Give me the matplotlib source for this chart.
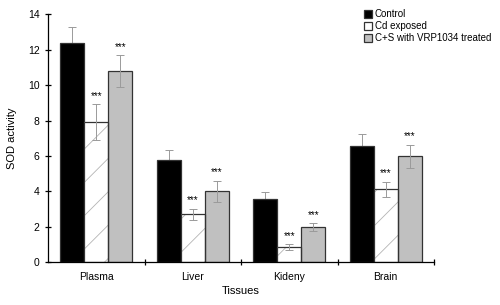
import numpy as np
import matplotlib.pyplot as plt

tissues = ["Plasma", "Liver", "Kideny", "Brain"]
groups = ["Control", "Cd exposed", "C+S with VRP1034 treated"]
control = [12.38, 5.8, 3.57, 6.58]
control_err = [0.92, 0.55, 0.4, 0.65]
cd = [7.9, 2.71, 0.87, 4.13]
cd_err = [1.02, 0.32, 0.15, 0.42]
cs = [10.8, 4.01, 1.97, 5.98]
cs_err = [0.88, 0.6, 0.23, 0.65]

plt.rcParams['font.family'] = ['Liberation Sans', 'DejaVu Sans']
plt.rcParams['hatch.linewidth'] = 0.6

fig = plt.figure(figsize=(5, 3.05), dpi=100)
ax = fig.add_axes([0.096, 0.14, 0.772, 0.813])

x = np.arange(len(tissues))
w = 0.25
styles = [
    (control, control_err, '#000000', None, -w),
    (cd, cd_err, '#ffffff', '/', 0),
    (cs, cs_err, '#c0c0c0', None, w),
]
for (vals, errs, col, hatch, off), name in zip(styles, groups):
    if hatch:
        # light hatch underneath, dark outline on top
        ax.bar(x + off, vals, width=w, color=col, edgecolor='#b4b4b4',
               linewidth=0, hatch=hatch, zorder=2)
        ax.bar(x + off, vals, width=w, fill=False, edgecolor='#333333',
               linewidth=0.9, zorder=2.1)
        ax.bar([np.nan], [np.nan], color=col, edgecolor='#333333',
               linewidth=0.9, label=name)
    else:
        ax.bar(x + off, vals, width=w, color=col, edgecolor='#333333',
               linewidth=0.9, label=name, zorder=2)
    ez = 1 if col == '#000000' else 3
    ax.errorbar(x + off, vals, yerr=errs, fmt='none', ecolor='#9a9a9a',
                elinewidth=0.7, capsize=3, capthick=0.7, zorder=ez)

for vals, errs, off in [(cd, cd_err, 0), (cs, cs_err, w)]:
    for xi, v, e in zip(x, vals, errs):
        ax.text(xi + off, v + e + 0.2, "***", ha='center', va='bottom',
                fontsize=7)

ax.set_xlim(-0.5, 3.5)
ax.set_ylim(0, 14)
ax.set_yticks(range(0, 15, 2))
ax.set_xticks([0.5, 1.5, 2.5, 3.5])
ax.set_xticklabels([])
ax.set_xticks(x, minor=True)
ax.set_xticklabels(tissues, minor=True)
ax.tick_params(axis='x', which='major', direction='inout', length=5, width=0.9)
ax.tick_params(axis='x', which='minor', length=0, pad=7, labelsize=7.5)
ax.tick_params(axis='y', direction='inout', length=5, width=0.9, labelsize=7.5)
for s in ['top', 'right']:
    ax.spines[s].set_visible(False)
ax.spines['left'].set_linewidth(0.9)
ax.spines['bottom'].set_linewidth(0.9)

ax.set_ylabel("SOD activity", fontsize=8, labelpad=8)
ax.set_xlabel("Tissues", fontsize=8, labelpad=3)

fig.legend(loc='upper left', bbox_to_anchor=(0.72, 0.982), frameon=False,
           fontsize=7, handlelength=0.8, handleheight=0.8, handletextpad=0.3,
           labelspacing=0.2, borderaxespad=0)

fig.savefig("out.png", dpi=100)
